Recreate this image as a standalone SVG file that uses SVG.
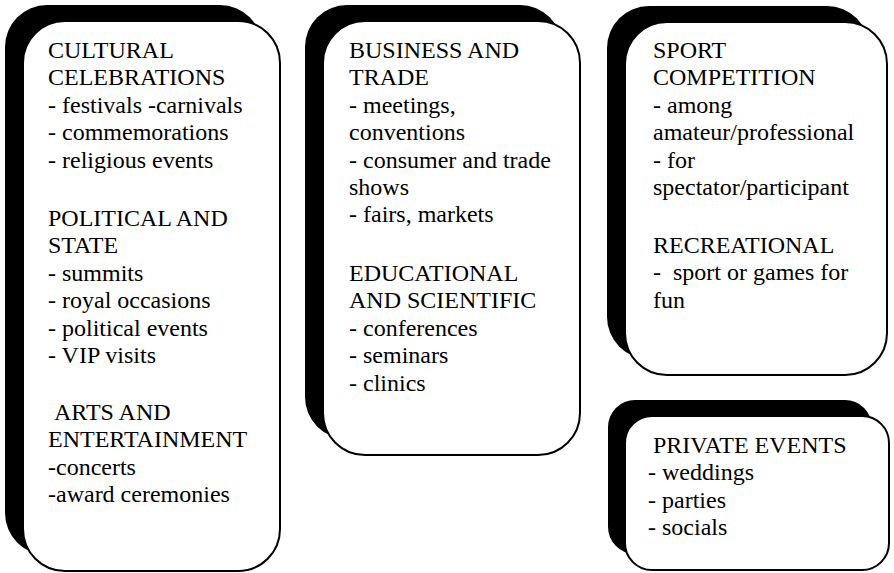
<svg xmlns="http://www.w3.org/2000/svg" width="894" height="573" viewBox="0 0 894 573">
  <style>
    .shadow { fill: #000; }
    .card { fill: #fff; stroke: #000; stroke-width: 2; }
    text { font-family: "Liberation Serif", "Times New Roman", serif; font-size: 24px; fill: #000; }
  </style>
  <rect width="894" height="573" fill="#fff"/>

  <!-- Cultural / political / arts events -->
  <g id="box-cultural">
    <rect class="shadow" x="5" y="5" width="257" height="550" rx="42"/>
    <rect class="card" x="23" y="21" width="257" height="550" rx="42"/>
    <text x="48" y="58">CULTURAL</text>
    <text x="48" y="85.4">CELEBRATIONS</text>
    <text x="48" y="112.8">- festivals -carnivals</text>
    <text x="48" y="140.2">- commemorations</text>
    <text x="48" y="167.6">- religious events</text>
    <text x="48" y="226">POLITICAL AND</text>
    <text x="48" y="253.4">STATE</text>
    <text x="48" y="280.8">- summits</text>
    <text x="48" y="308.2">- royal occasions</text>
    <text x="48" y="335.6">- political events</text>
    <text x="48" y="363">- VIP visits</text>
    <text x="54" y="420">ARTS AND</text>
    <text x="48" y="447.4">ENTERTAINMENT</text>
    <text x="48" y="474.8">-concerts</text>
    <text x="48" y="502.2">-award ceremonies</text>
  </g>

  <!-- Business / educational events -->
  <g id="box-business">
    <rect class="shadow" x="305" y="5" width="257" height="434" rx="42"/>
    <rect class="card" x="323" y="21" width="257" height="434" rx="42"/>
    <text x="349" y="58">BUSINESS AND</text>
    <text x="349" y="85.4">TRADE</text>
    <text x="349" y="112.8">- meetings,</text>
    <text x="349" y="140.2">conventions</text>
    <text x="349" y="167.6">- consumer and trade</text>
    <text x="349" y="195">shows</text>
    <text x="349" y="222.4">- fairs, markets</text>
    <text x="349" y="281">EDUCATIONAL</text>
    <text x="349" y="308.4">AND SCIENTIFIC</text>
    <text x="349" y="335.8">- conferences</text>
    <text x="349" y="363.2">- seminars</text>
    <text x="349" y="390.6">- clinics</text>
  </g>

  <!-- Sport / recreational events -->
  <g id="box-sport">
    <rect class="shadow" x="607" y="6" width="262" height="353" rx="42"/>
    <rect class="card" x="625" y="22" width="262" height="353" rx="42"/>
    <text x="653" y="58">SPORT</text>
    <text x="653" y="85.4">COMPETITION</text>
    <text x="653" y="112.8">- among</text>
    <text x="653" y="140.2">amateur/professional</text>
    <text x="653" y="167.6">- for</text>
    <text x="653" y="195">spectator/participant</text>
    <text x="653" y="253">RECREATIONAL</text>
    <text x="653" y="280.4" xml:space="preserve">-  sport or games for</text>
    <text x="653" y="307.8">fun</text>
  </g>

  <!-- Private events -->
  <g id="box-private">
    <rect class="shadow" x="608" y="400" width="264" height="154" rx="27"/>
    <rect class="card" x="625" y="416" width="264" height="154" rx="27"/>
    <text x="653" y="453">PRIVATE EVENTS</text>
    <text x="648" y="480.4">- weddings</text>
    <text x="648" y="507.8">- parties</text>
    <text x="648" y="535.2">- socials</text>
  </g>

  <g id="connectors"/>
</svg>
